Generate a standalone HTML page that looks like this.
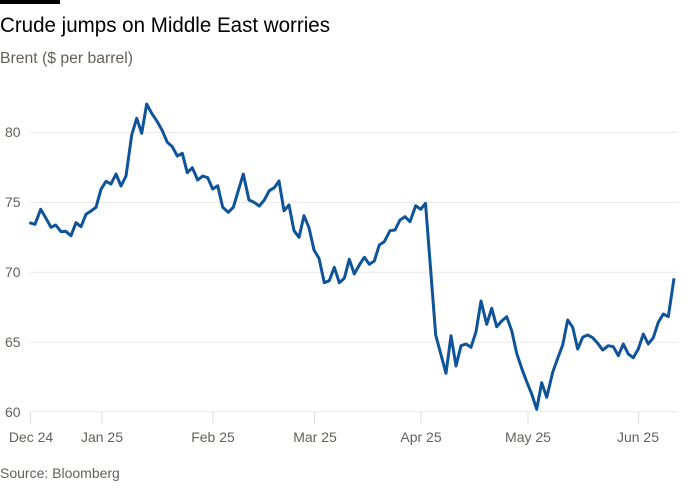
<!DOCTYPE html>
<html><head><meta charset="utf-8"><style>
body{margin:0;background:#fff;}
svg{display:block;font-family:"Liberation Sans",sans-serif;}
</style></head><body>
<svg width="700" height="500" viewBox="0 0 700 500" xmlns="http://www.w3.org/2000/svg">
<rect width="700" height="500" fill="#fff"/>
<rect x="0" y="0" width="60" height="4" fill="#000"/>
<text x="0" y="32" font-size="21" fill="#000" textLength="330" lengthAdjust="spacingAndGlyphs">Crude jumps on Middle East worries</text>
<text x="0" y="63" font-size="15.5" fill="#66605c" textLength="133" lengthAdjust="spacingAndGlyphs">Brent ($ per barrel)</text>
<g stroke="#ebe9e6" stroke-width="1">
<line x1="30" x2="678" y1="132.3" y2="132.3"/>
<line x1="30" x2="678" y1="202.5" y2="202.5"/>
<line x1="30" x2="678" y1="272.3" y2="272.3"/>
<line x1="30" x2="678" y1="342.2" y2="342.2"/>
<line x1="30" x2="678" y1="411.8" y2="411.8"/>
</g>
<g stroke="#e0dcd8" stroke-width="1">
<line x1="30.5" x2="30.5" y1="412" y2="424"/>
<line x1="102" x2="102" y1="412" y2="424"/>
<line x1="213" x2="213" y1="412" y2="424"/>
<line x1="314.5" x2="314.5" y1="412" y2="424"/>
<line x1="421" x2="421" y1="412" y2="424"/>
<line x1="528" x2="528" y1="412" y2="424"/>
<line x1="638.5" x2="638.5" y1="412" y2="424"/>
</g>
<g font-size="14" fill="#66605c">
<text x="5" y="137">80</text>
<text x="5" y="207">75</text>
<text x="5" y="277">70</text>
<text x="5" y="347">65</text>
<text x="5" y="417">60</text>
</g>
<g font-size="14" fill="#66605c" text-anchor="middle">
<text x="31" y="442">Dec 24</text>
<text x="102" y="442">Jan 25</text>
<text x="213" y="442">Feb 25</text>
<text x="315" y="442">Mar 25</text>
<text x="421" y="442">Apr 25</text>
<text x="528" y="442">May 25</text>
<text x="638" y="442">Jun 25</text>
</g>
<text x="0" y="478" font-size="14" fill="#66605c">Source: Bloomberg</text>
<polyline fill="none" stroke="#0f5499" stroke-width="3" stroke-linejoin="round" points="29.3,222.7 35,224.3 40.7,209.3 46,218.3 51,227.3 55.7,225 61,231.7 65.7,231.3 71,235.7 76,222.7 81,226.7 86,214.3 91,211 96,207.3 101,189.3 106,181.3 111,184 116,174 121,186 126,176 131.7,135 136.7,118.3 141.7,133.3 146.7,104 151.7,113.3 157.3,121.7 162.3,130.7 167.3,142.3 172.3,146.7 177.3,156 182.3,153.3 187.3,172.7 192.3,167.7 197.7,180 202.7,176 207.7,177.7 212.7,189 217.7,185.7 222.7,207.3 228.3,212.3 233.3,207.3 238.3,190.7 243.3,174 249,200 254,202.3 259.3,206 264.3,200 269.3,190.7 274.3,187.7 279,181 284,210.7 289,205 294,230.7 299,237.3 304,215.7 309,227.7 314,250 319,258.3 324.3,282.7 329.3,280.7 334.3,267.3 339.3,282.7 344.3,278.3 349.3,259.3 354.3,274 359.3,265 364.3,257.3 369.3,264.3 374.3,261 379.3,245 384.3,241.7 390,230.7 395,230 400,220 405,216.7 410,221.7 415.7,205.7 420.7,209.3 425.5,203.3 435.7,335 446,373.3 451,335.7 456,366 461,345.7 466,344 471,347.3 476,331.7 481,301 486.7,324.3 491.7,308.3 496.7,326.7 501.7,321 506.7,316.7 511.7,330.7 516.7,353.3 521.7,368.3 526.7,381.7 531.7,394 536.7,409.3 541.7,382.7 546.7,397.3 552.7,372.3 557.7,358.3 562.7,345 567.7,320 572.7,327.3 577.7,349 582.7,337.3 587.7,335 592.7,337.7 597.7,343.3 602.7,350 608.3,345.7 613.3,346.7 618.3,355.7 623.3,344 628.3,354 633.3,357.7 638.3,349 643.3,334 648.3,344 653.3,337.7 658.3,322.3 663.3,314 668.3,316.7 674,278.3"/>
</svg>
</body></html>
